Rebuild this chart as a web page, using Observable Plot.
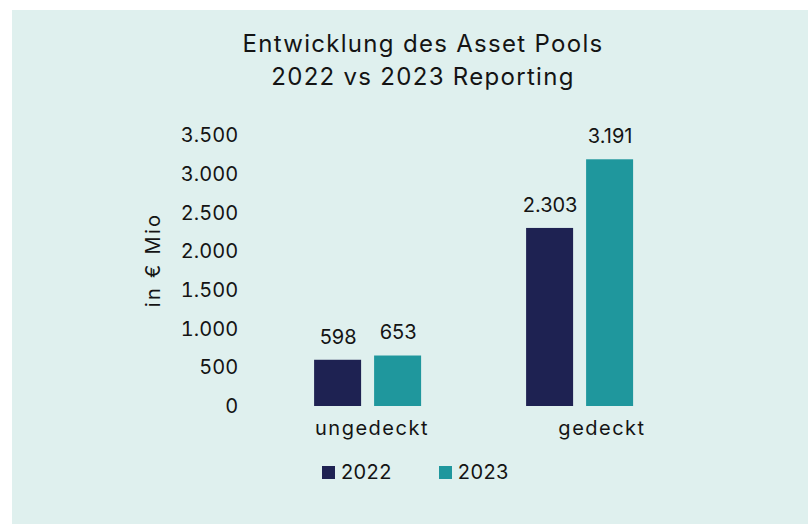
<!DOCTYPE html>
<html>
<head>
<meta charset="utf-8">
<script src="https://cdn.jsdelivr.net/npm/d3@7"></script>
<script src="https://cdn.jsdelivr.net/npm/@observablehq/plot@0.6"></script>
<style>
  html, body { margin: 0; padding: 0; background: #ffffff; }
  body { width: 808px; height: 524px; position: relative; overflow: hidden; font-family: Inter, "Open Sans", sans-serif; color: #141414; }
  #panel { position: absolute; left: 12px; top: 10px; width: 796px; height: 514px; background: #dff0ee; }
  #title { position: absolute; left: 111px; width: 600px; top: 17px; text-align: center; font-size: 24px; line-height: 33px; font-weight: 400; letter-spacing: 1.3px; }
  #chart { position: absolute; left: 0; top: 90px; }
  #legend { position: absolute; left: 310px; top: 449px; display: flex; align-items: center; font-size: 20px; line-height: 26px; letter-spacing: 0.4px; }
  .item { display: flex; align-items: center; margin-right: 47px; }
  .sw { width: 13px; height: 13px; margin-right: 6px; }
</style>
</head>
<body>
<div id="panel">
  <div id="title">Entwicklung des Asset Pools<br>2022 vs 2023 Reporting</div>
  <div id="chart"></div>
  <div id="legend"></div>
</div>
<script>
const categories = ["ungedeckt", "gedeckt"];
const years = ["2022", "2023"];
const values2022 = [598, 2303];
const values2023 = [653, 3191];
const yTicks = [0, 500, 1000, 1500, 2000, 2500, 3000, 3500];
const colors = ["#1e2252", "#1f979d"];
const yLabel = "in € Mio";

const de = d3.formatLocale({decimal: ",", thousands: ".", grouping: [3], currency: ["", " €"]});
const fmt = de.format(",");

const data = categories.flatMap((c, i) => [
  {category: c, year: years[0], value: values2022[i]},
  {category: c, year: years[1], value: values2023[i]}
]);

const chart = Plot.plot({
  width: 796,
  height: 350,
  marginTop: 35.4,
  marginBottom: 44,
  marginLeft: 286.9,
  marginRight: 160.85,
  style: {background: "transparent", fontFamily: "Inter, 'Open Sans', sans-serif", fontSize: "20px", color: "#141414", overflow: "visible"},
  fx: {domain: categories, paddingInner: 0.365, paddingOuter: 0, axis: null, label: null},
  x: {domain: years, padding: 0.218, axis: null},
  y: {domain: [0, 3500], axis: null},
  color: {domain: years, range: colors},
  marks: [
    Plot.barY(data, {fx: "category", x: "year", y: "value", fill: "year"}),
    Plot.text(data, {fx: "category", x: "year", y: "value", text: d => fmt(d.value), dy: -23, fontSize: 20, fill: "#141414"}),
    Plot.axisY(yTicks, {tickSize: 0, tickPadding: 0, dx: -62.4, tickFormat: fmt, fontSize: 20, fill: "#141414", label: null}),
    Plot.text([yLabel], {fx: () => categories[0], frameAnchor: "left", rotate: -90, dx: -146.9, dy: 36, fontSize: 20, fill: "#141414"}),
    Plot.text([categories[0]], {fx: d => d, frameAnchor: "bottom", dy: 28, dx: 4, fontSize: 20, fill: "#141414"}),
    Plot.text([categories[1]], {fx: d => d, frameAnchor: "bottom", dy: 28, dx: 22, fontSize: 20, fill: "#141414"})
  ]
});
d3.select(chart).selectAll("text")
  .filter(function() { return /[a-z]/.test(this.textContent); })
  .style("letter-spacing", "1.5px");
d3.select(chart).selectAll("text")
  .filter(function() { return this.textContent === yLabel; })
  .style("letter-spacing", "2.3px");
document.getElementById("chart").appendChild(chart);

const legend = document.getElementById("legend");
years.forEach((y, i) => {
  const item = document.createElement("div");
  item.className = "item";
  const sw = document.createElement("span");
  sw.className = "sw";
  sw.style.background = colors[i];
  const t = document.createElement("span");
  t.textContent = y;
  item.appendChild(sw);
  item.appendChild(t);
  legend.appendChild(item);
});
</script>
</body>
</html>
